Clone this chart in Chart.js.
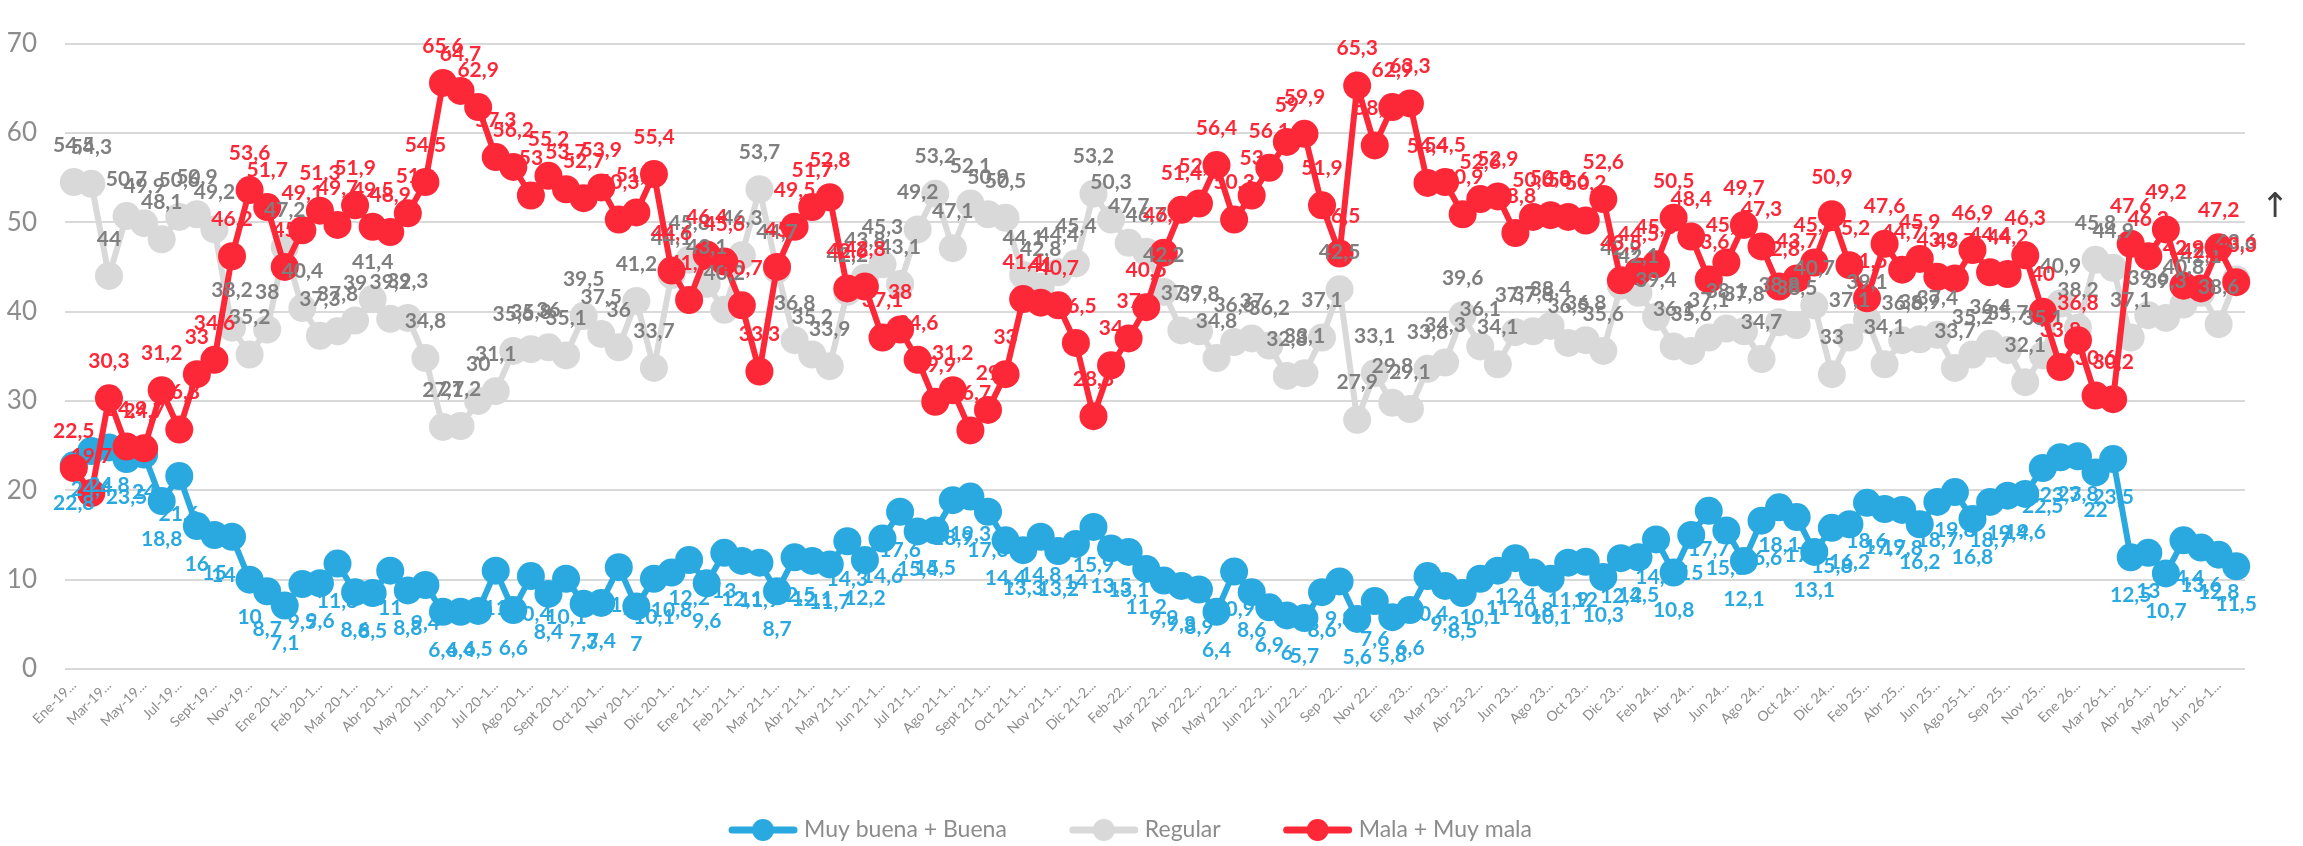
<!DOCTYPE html>
<html>
<head>
<meta charset="utf-8">
<script src="https://cdn.jsdelivr.net/npm/chart.js@4.4.1/dist/chart.umd.min.js"></script>
<style>
    html, body { margin: 0; padding: 0; background: #fff; }
    canvas { display: block; }
</style>
</head>
<body>
<canvas id="line-chart" width="2303" height="846"></canvas>
<script>
// ------------------------------------------------------
// @Data
// ------------------------------------------------------

const categories = [
    'Ene-19', 'Feb-19', 'Mar-19', 'Abr-19', 'May-19', 'Jun-19', 'Jul-19', 'Ago-19', 'Sept-19', 'Oct-19', 'Nov-19', 'Dic-19',
    'Ene 20-1', 'Ene 20-2', 'Feb 20-1', 'Feb 20-2', 'Mar 20-1', 'Mar 20-2', 'Abr 20-1', 'Abr 20-2', 'May 20-1', 'May 20-2', 'Jun 20-1', 'Jun 20-2',
    'Jul 20-1', 'Jul 20-2', 'Ago 20-1', 'Ago 20-2', 'Sept 20-1', 'Sept 20-2', 'Oct 20-1', 'Oct 20-2', 'Nov 20-1', 'Nov 20-2', 'Dic 20-1', 'Dic 20-2',
    'Ene 21-1', 'Ene 21-2', 'Feb 21-1', 'Feb 21-2', 'Mar 21-1', 'Mar 21-2', 'Abr 21-1', 'Abr 21-2', 'May 21-1', 'May 21-2', 'Jun 21-1', 'Jun 21-2',
    'Jul 21-1', 'Jul 21-2', 'Ago 21-1', 'Ago 21-2', 'Sept 21-1', 'Sept 21-2', 'Oct 21-1', 'Oct 21-2', 'Nov 21-1', 'Nov 21-2', 'Dic 21-2',
    'Ene-22', 'Feb-22', 'Mar 22-1', 'Mar 22-2', 'Abr 22-1', 'Abr 22-2', 'May 22-1', 'May 22-2', 'Jun 22-1', 'Jun 22-2', 'Jul 22-1', 'Jul 22-2',
    'Ago 22', 'Sep 22', 'Oct 22', 'Nov 22', 'Dic 22',
    'Ene 23', 'Feb 23', 'Mar 23', 'Abr 23-1', 'Abr 23-2', 'May 23', 'Jun 23', 'Jul 23', 'Ago 23', 'Sep 23', 'Oct 23', 'Nov 23', 'Dic 23',
    'Ene 24', 'Feb 24', 'Mar 24', 'Abr 24', 'May 24', 'Jun 24', 'Jul 24', 'Ago 24', 'Sep 24', 'Oct 24', 'Nov 24', 'Dic 24',
    'Ene 25', 'Feb 25', 'Mar 25', 'Abr 25', 'May 25', 'Jun 25', 'Jul 25', 'Ago 25-1', 'Ago 25-2', 'Sep 25', 'Oct 25', 'Nov 25', 'Dic 25',
    'Ene 26', 'Feb 26', 'Mar 26-1', 'Mar 26-2', 'Abr 26-1', 'Abr 26-2', 'May 26-1', 'May 26-2', 'Jun 26-1', 'Jun 26-2',
];

const buenaValues = [
    22.8, 24.4, 24.8, 23.5, 24, 18.8, 21.6, 16, 15, 14.8, 10, 8.7, 7.1, 9.5, 9.6, 11.8, 8.6, 8.5, 11, 8.8,
    9.4, 6.4, 6.4, 6.5, 11, 6.6, 10.4, 8.4, 10.1, 7.3, 7.4, 11.4, 7, 10.1, 10.8, 12.2, 9.6, 13, 12.1, 11.9,
    8.7, 12.5, 12.1, 11.7, 14.3, 12.2, 14.6, 17.6, 15.4, 15.5, 18.9, 19.3, 17.6, 14.4, 13.3, 14.8, 13.2, 14, 15.9, 13.5,
    13.1, 11.2, 9.9, 9.3, 8.9, 6.4, 10.9, 8.6, 6.9, 6, 5.7, 8.6, 9.8, 5.6, 7.6, 5.8, 6.6, 10.4, 9.3, 8.5,
    10.1, 11, 12.4, 10.8, 10.1, 11.9, 12, 10.3, 12.4, 12.5, 14.5, 10.8, 15, 17.7, 15.5, 12.1, 16.6, 18.1, 17, 13.1,
    15.8, 16.2, 18.6, 17.9, 17.8, 16.2, 18.7, 19.8, 16.8, 18.7, 19.4, 19.6, 22.5, 23.7, 23.8, 22, 23.5, 12.5, 13, 10.7,
    14.4, 13.6, 12.8, 11.5,
];

const regularValues = [
    54.5, 54.3, 44, 50.7, 49.9, 48.1, 50.6, 50.9, 49.2, 38.2, 35.2, 38, 47.2, 40.4, 37.3, 37.8, 39, 41.4, 39.2, 39.3,
    34.8, 27.1, 27.2, 30, 31.1, 35.6, 35.8, 36, 35.1, 39.5, 37.5, 36, 41.2, 33.7, 44.1, 45.8, 43.1, 40.2, 46.3, 53.7,
    44.7, 36.8, 35.2, 33.9, 42.2, 43.8, 45.3, 43.1, 49.2, 53.2, 47.1, 52.1, 50.9, 50.5, 44.1, 42.8, 44.4, 45.4, 53.2, 50.3,
    47.7, 46.7, 42.2, 37.9, 37.8, 34.8, 36.6, 37, 36.2, 32.8, 33.1, 37.1, 42.5, 27.9, 33.1, 29.8, 29.1, 33.6, 34.3, 39.6,
    36.1, 34.1, 37.7, 37.8, 38.4, 36.5, 36.8, 35.6, 42.9, 42.1, 39.4, 36.1, 35.6, 37.1, 38.1, 37.8, 34.7, 38.8, 38.5, 40.7,
    33, 37.1, 39.1, 34.1, 36.8, 36.9, 37.4, 33.7, 35.2, 36.4, 35.7, 32.1, 35.1, 40.9, 38.2, 45.8, 44.9, 37.1, 39.6, 39.3,
    40.8, 42.1, 38.6, 43.6,
];

const malaValues = [
    22.5, 19.7, 30.3, 24.9, 24.7, 31.2, 26.8, 33, 34.6, 46.2, 53.6, 51.7, 45, 49.1, 51.3, 49.7, 51.9, 49.5, 48.9, 51,
    54.5, 65.6, 64.7, 62.9, 57.3, 56.2, 53, 55.2, 53.7, 52.7, 53.9, 50.3, 51.1, 55.4, 44.6, 41.3, 46.4, 45.6, 40.7, 33.3,
    45, 49.5, 51.7, 52.8, 42.6, 42.8, 37.1, 38, 34.6, 29.9, 31.2, 26.7, 29, 33, 41.4, 41, 40.7, 36.5, 28.3, 34,
    37, 40.5, 46.6, 51.4, 52.1, 56.4, 50.3, 53, 56.1, 59, 59.9, 51.9, 46.5, 65.3, 58.6, 62.9, 63.3, 54.4, 54.5, 50.9,
    52.6, 52.9, 48.8, 50.6, 50.8, 50.6, 50.2, 52.6, 43.5, 44.5, 45.3, 50.5, 48.4, 43.6, 45.5, 49.7, 47.3, 42.8, 43.7, 45.5,
    50.9, 45.2, 41.5, 47.6, 44.7, 45.9, 43.9, 43.7, 46.9, 44.4, 44.2, 46.3, 40, 33.8, 36.8, 30.6, 30.2, 47.6, 46.2, 49.2,
    42.9, 42.6, 47.2, 43.3,
];

const yTicks = [0, 10, 20, 30, 40, 50, 60, 70];

const COLORS = {
    blue     : '#29a9e0',
    gray     : '#d9d9d9',
    grayText : '#7f7f7f',
    red      : '#fc2838',
    axisText : '#8c8c8c',
    grid     : '#d9d9d9',
};

// ------------------------------------------------------
// @Plugins
// ------------------------------------------------------

// value labels next to every point, comma as decimal mark
const dataLabels = {
    id: 'dataLabels',
    afterDatasetsDraw(chart) {
        const ctx = chart.ctx;
        ctx.save();
        ctx.font = 'bold 21px Lato';
        ctx.textAlign = 'center';
        ctx.textBaseline = 'middle';
        chart.data.datasets.forEach((ds, di) => {
            const meta = chart.getDatasetMeta(di);
            ctx.fillStyle = ds.labelColor;
            meta.data.forEach((pt, i) => {
                const txt = String(ds.data[i]).replace('.', ',');
                ctx.fillText(txt, pt.x, pt.y + ds.labelOffset);
            });
        });
        ctx.restore();
    },
};

// legend row at the bottom, line + marker like the original
const bottomLegend = {
    id: 'bottomLegend',
    afterDraw(chart) {
        const ctx = chart.ctx;
        const y = 830;
        const lineW = 70;
        const gap = 6;
        const spacing = 62;

        ctx.save();
        ctx.font = '23px Lato';
        ctx.textBaseline = 'middle';
        const items = chart.data.datasets.map(ds => ({
            text  : ds.label,
            color : ds.borderColor,
            w     : ctx.measureText(ds.label).width,
        }));
        const total = items.reduce((s, it) => s + lineW + gap + it.w, 0) + spacing * (items.length - 1);
        let x = 1130 - total / 2;

        items.forEach(it => {
            ctx.strokeStyle = it.color;
            ctx.lineWidth = 7;
            ctx.lineCap = 'round';
            ctx.beginPath();
            ctx.moveTo(x + 4, y);
            ctx.lineTo(x + lineW - 4, y);
            ctx.stroke();
            ctx.fillStyle = it.color;
            ctx.beginPath();
            ctx.arc(x + lineW / 2, y, 11, 0, Math.PI * 2);
            ctx.fill();
            ctx.fillStyle = COLORS.axisText;
            ctx.fillText(it.text, x + lineW + gap, y);
            x += lineW + gap + it.w + spacing;
        });

        // small arrow glyph right of the plot
        ctx.fillStyle = '#404040';
        ctx.font = '34px "DejaVu Sans"';
        ctx.textAlign = 'center';
        ctx.fillText('\u2191', 2275, 208);
        ctx.restore();
    },
};

// ------------------------------------------------------
// @Line Chart
// ------------------------------------------------------

const lineChartBox = document.getElementById('line-chart');

if (lineChartBox) {
    const lineCtx = lineChartBox.getContext('2d');

    const series = (label, data, color, labelColor, labelOffset, order) => ({
        label,
        data,
        order,
        labelColor,
        labelOffset,
        borderColor          : color,
        backgroundColor      : color,
        pointBackgroundColor : color,
        borderWidth          : 6,
        pointRadius          : 14,
        pointHoverRadius     : 14,
        pointBorderWidth     : 0,
        tension              : 0,
        clip                 : false,
    });

    new Chart(lineCtx, {
        type: 'line',
        data: {
            labels: categories,
            datasets: [
                series('Muy buena + Buena', buenaValues, COLORS.blue, COLORS.blue, 38, 3),
                series('Regular', regularValues, COLORS.gray, COLORS.grayText, -37, 2),
                series('Mala + Muy mala', malaValues, COLORS.red, COLORS.red, -37, 1),
            ],
        },

        options: {
            responsive       : false,
            animation        : false,
            devicePixelRatio : 1,
            layout: {
                padding: { top: 19, right: 58, left: 0, bottom: 0 },
            },
            plugins: {
                legend  : { display: false },
                tooltip : { enabled: false },
            },
            scales: {
                x: {
                    offset : true,
                    grid   : { display: false, drawTicks: false },
                    border : { display: false },
                    ticks: {
                        autoSkip    : false,
                        minRotation : 45,
                        maxRotation : 45,
                        padding     : 8,
                        color       : COLORS.axisText,
                        font        : { family: 'Lato', size: 14 },
                        callback(value, index) {
                            return index % 2 === 0 ? this.getLabelForValue(value) + '...' : '';
                        },
                    },
                    afterFit(scale) { scale.height = 177; },
                },
                y: {
                    min    : yTicks[0],
                    max    : yTicks[yTicks.length - 1],
                    border : { display: false },
                    grid   : { color: COLORS.grid, lineWidth: 2, drawTicks: false },
                    ticks: {
                        stepSize : 10,
                        padding  : 28,
                        color    : COLORS.axisText,
                        font     : { family: 'Lato', size: 26 },
                    },
                    afterFit(scale) { scale.width = 65; },
                },
            },
        },
        plugins: [dataLabels, bottomLegend],
    });
}
</script>
</body>
</html>
